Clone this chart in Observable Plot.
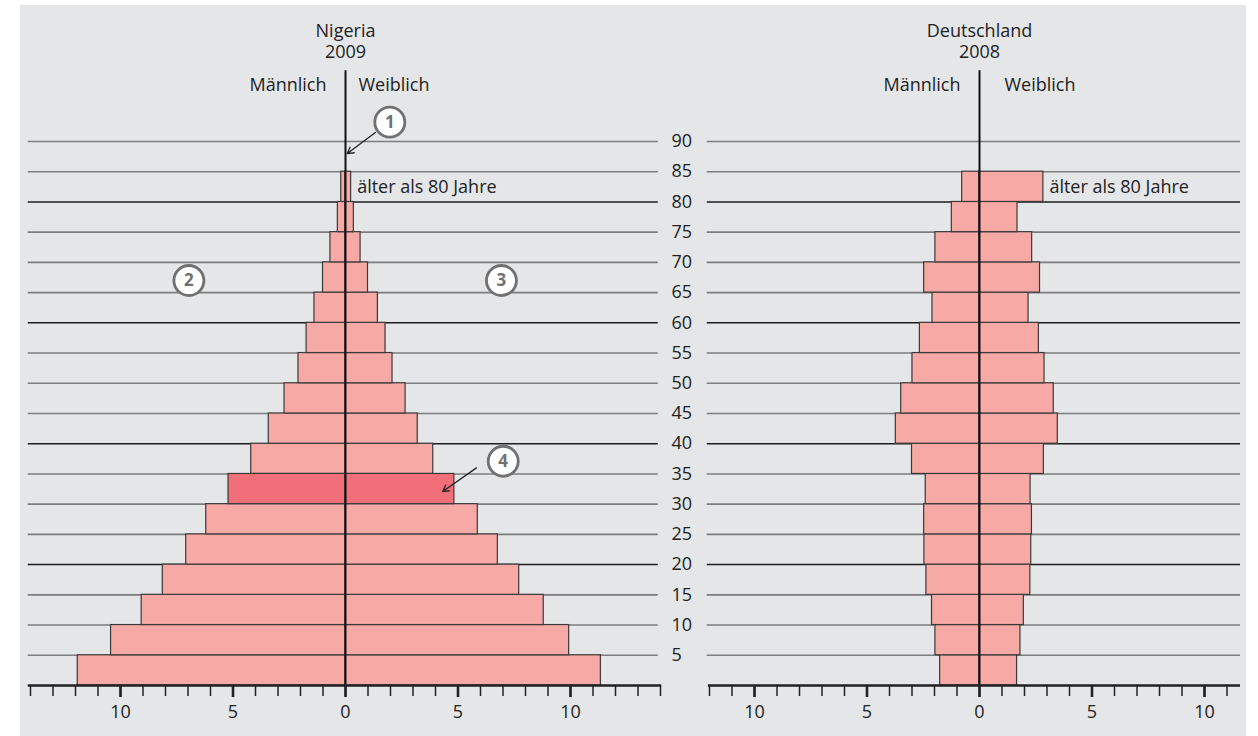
<!DOCTYPE html>
<html><head><meta charset="utf-8">
<script src="https://cdn.jsdelivr.net/npm/d3@7"></script>
<script src="https://cdn.jsdelivr.net/npm/@observablehq/plot@0.6"></script>
<style>
html,body{margin:0;padding:0;background:#fff;}
#wrap{position:relative;width:1258px;height:736px;overflow:hidden;font-family:"Open Sans",sans-serif;}
#bg{position:absolute;left:20px;top:5px;width:1226px;height:731px;background:#e5e6e8;}
#left,#right{position:absolute;top:0;}
#left{left:0px;}
#right{left:680px;}
</style></head><body>
<div id="wrap"><div id="bg"></div><div id="left"></div><div id="right"></div></div>
<script>
// ---- data (percent of population per 5-year age group; first entry = 0–5 years) ----
const ageGroups = [0, 5, 10, 15, 20, 25, 30, 35, 40, 45, 50, 55, 60, 65, 70, 75, 80];
const nigeriaMale   = [11.9, 10.42, 9.06, 8.12, 7.08, 6.19, 5.2, 4.19, 3.41, 2.71, 2.09, 1.73, 1.38, 1.0, 0.67, 0.34, 0.19];
const nigeriaFemale = [11.35, 9.94, 8.81, 7.72, 6.77, 5.88, 4.84, 3.9, 3.21, 2.67, 2.09, 1.78, 1.44, 1.0, 0.67, 0.37, 0.25];
const germanyMale   = [1.75, 1.96, 2.11, 2.36, 2.45, 2.46, 2.39, 3.0, 3.72, 3.48, 2.98, 2.65, 2.09, 2.46, 1.96, 1.23, 0.77];
const germanyFemale = [1.67, 1.82, 1.97, 2.26, 2.30, 2.33, 2.27, 2.86, 3.48, 3.30, 2.89, 2.64, 2.18, 2.69, 2.34, 1.69, 2.84];
const highlightAge = 30; // Nigeria 30–35 highlighted
const ageTicks = [5, 10, 15, 20, 25, 30, 35, 40, 45, 50, 55, 60, 65, 70, 75, 80, 85, 90];
const majorTicks = [-10, -5, 0, 5, 10];
const topLabel = "älter als 80 Jahre";
const maleLabel = "Männlich", femaleLabel = "Weiblich";
const nigeriaTitle = ["Nigeria", "2009"];
const germanyTitle = ["Deutschland", "2008"];
// annotation markers (data coordinates of the Nigeria panel)
const markers = [
  {label: "1", x: 1.97, y: 93.2},
  {label: "2", x: -6.96, y: 67.0},
  {label: "3", x: 6.93, y: 67.0},
  {label: "4", x: 7.01, y: 37.1}
];
const pointers = [
  {x1: 1.33, y1: 91.5, x2: 0.08, y2: 88.0},
  {x1: 5.82, y1: 36.0, x2: 4.32, y2: 32.1}
];

const FONT = "Open Sans";
const H = 736;

function pyramid({male, female, title, width, marginLeft, marginRight, domain, gridX, lineX, ticks,
                  maleDx, femaleDx, highlight, yAxis, extra}) {
  const rows = ageGroups.map((a, i) => ({age: a, male: male[i], female: female[i], hl: a === highlight}));
  const top = rows[rows.length - 1];
  const marks = [
    Plot.ruleY(ageTicks.filter(a => a % 20 !== 0), {x1: gridX[0], x2: gridX[1], stroke: "#7d7d7d", strokeWidth: 1.6}),
    Plot.ruleY(ageTicks.filter(a => a % 20 === 0), {x1: gridX[0], x2: gridX[1], stroke: "#1c1c1c", strokeWidth: 1.5}),
    Plot.rect(rows, {filter: d => !d.hl, x1: 0, x2: d => -d.male, y1: "age", y2: d => d.age + 5, fill: "#f7a9a6", stroke: "#3a3a3a", strokeWidth: 1.2}),
    Plot.rect(rows, {filter: d => !d.hl, x1: 0, x2: "female", y1: "age", y2: d => d.age + 5, fill: "#f7a9a6", stroke: "#3a3a3a", strokeWidth: 1.2}),
    Plot.rect(rows, {filter: d => d.hl, x1: 0, x2: d => -d.male, y1: "age", y2: d => d.age + 5, fill: "#f06f78", stroke: "#3a3a3a", strokeWidth: 1.2}),
    Plot.rect(rows, {filter: d => d.hl, x1: 0, x2: "female", y1: "age", y2: d => d.age + 5, fill: "#f06f78", stroke: "#3a3a3a", strokeWidth: 1.2}),
    Plot.ruleX([0], {y1: 0, y2: 101.7, stroke: "#111", strokeWidth: 2}),
    Plot.ruleY([0], {x1: lineX[0], x2: lineX[1], stroke: "#222", strokeWidth: 2.6}),
    Plot.axisX(ticks, {anchor: "bottom", tickSize: 11, strokeWidth: 1.5, stroke: "#222", tickFormat: () => ""}),
    Plot.axisX(majorTicks, {anchor: "bottom", tickSize: 12, strokeWidth: 2.6, stroke: "#222", tickPadding: 8,
                            tickFormat: d => Math.abs(d), fontSize: 18, fill: "#222"}),
    Plot.text([top], {x: "female", y: d => d.age + 2.5, text: () => topLabel, dx: 6, textAnchor: "start", fontSize: 18, fill: "#222"}),
    Plot.text([title[0]], {x: 0, y: 108.3, text: d => d, fontSize: 18, fill: "#222"}),
    Plot.text([title[1]], {x: 0, y: 104.7, text: d => d, fontSize: 18, fill: "#222"}),
    Plot.text([maleLabel], {x: 0, y: 99.3, text: d => d, dx: maleDx, textAnchor: "end", fontSize: 18, fill: "#222"}),
    Plot.text([femaleLabel], {x: 0, y: 99.3, text: d => d, dx: femaleDx, textAnchor: "start", fontSize: 18, fill: "#222"})
  ];
  if (yAxis) marks.push(Plot.axisY(ageTicks, {anchor: "right", tickSize: 0, tickPadding: 6.5, fontSize: 18, fill: "#222"}));
  if (extra) marks.push(...extra);
  return Plot.plot({
    width, height: H,
    marginLeft, marginRight, marginTop: 141, marginBottom: H - 685,
    x: {domain, label: null},
    y: {domain: [0, 90], label: null, axis: yAxis ? undefined : null},
    style: {background: "transparent", fontFamily: FONT, fontSize: "18px", color: "#222", overflow: "visible"},
    marks
  });
}

const extraNigeria = [
  Plot.arrow(pointers, {x1: "x1", y1: "y1", x2: "x2", y2: "y2", stroke: "#222", strokeWidth: 1.3, headLength: 8}),
  Plot.dot(markers, {x: "x", y: "y", r: 15, fill: "white", stroke: "#707070", strokeWidth: 2.8}),
  Plot.text(markers, {x: "x", y: "y", text: "label", fill: "#707070", fontWeight: "bold", fontSize: 17})
];

document.getElementById("left").appendChild(pyramid({
  male: nigeriaMale, female: nigeriaFemale, title: nigeriaTitle,
  width: 680, marginLeft: 25.5, marginRight: 15.5, domain: [-14.2, 14.2],
  gridX: [-14.1, 13.9], lineX: [-14.1, 14.05], ticks: d3.range(-14, 15),
  maleDx: -19, femaleDx: 13, highlight: highlightAge, yAxis: true, extra: extraNigeria
}));

document.getElementById("right").appendChild(pyramid({
  male: germanyMale, female: germanyFemale, title: germanyTitle,
  width: 578, marginLeft: 24.5, marginRight: 13.5, domain: [-12.2, 11.8],
  gridX: [-12.1, 11.6], lineX: [-12.05, 11.6], ticks: d3.range(-12, 12),
  maleDx: -19, femaleDx: 25, highlight: null, yAxis: false, extra: []
}));
</script>
</body></html>
